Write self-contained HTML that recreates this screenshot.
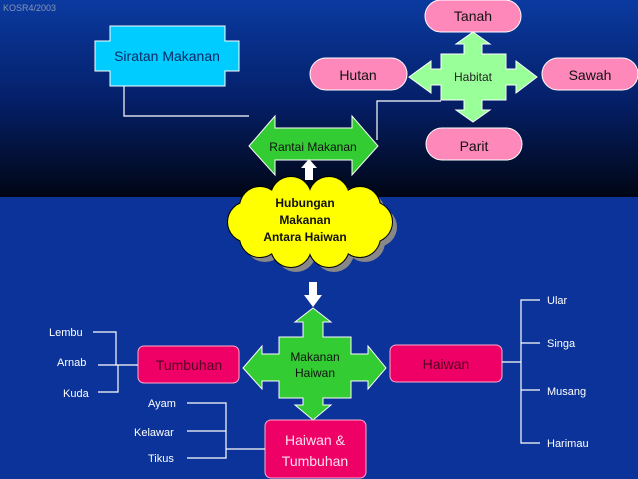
<!DOCTYPE html>
<html><head><meta charset="utf-8"><style>
html,body{margin:0;padding:0;width:638px;height:479px;overflow:hidden;background:#0b3399}
svg{display:block}
text{font-family:"Liberation Sans",sans-serif}
</style></head><body>
<svg width="638" height="479" viewBox="0 0 638 479" xmlns="http://www.w3.org/2000/svg">
<defs>
<linearGradient id="tg" x1="0" y1="0" x2="0" y2="1">
<stop offset="0" stop-color="#0a3aa0"/><stop offset="0.5" stop-color="#05206a"/><stop offset="1" stop-color="#000614"/>
</linearGradient>
<g id="cl">
<circle cx="372" cy="222" r="20"/><circle cx="360" cy="237" r="20"/><circle cx="329" cy="247" r="20"/>
<circle cx="291" cy="247" r="20"/><circle cx="260" cy="237" r="20"/><circle cx="248" cy="222" r="20"/>
<circle cx="260" cy="207" r="20"/><circle cx="291" cy="197" r="20"/><circle cx="329" cy="197" r="20"/>
<circle cx="360" cy="207" r="20"/>
<ellipse cx="310" cy="222" rx="64" ry="30"/>
</g>
</defs>
<rect x="0" y="0" width="638" height="197" fill="url(#tg)"/>
<rect x="0" y="197" width="638" height="282" fill="#0b3399"/>
<text x="3" y="11" font-size="9" fill="#8894b8">KOSR4/2003</text>

<polyline points="124,86 124,116 249,116" fill="none" stroke="#fff" stroke-width="1.2"/>
<polyline points="377,140 377,101 441,101" fill="none" stroke="#fff" stroke-width="1.2"/>

<path d="M110,26H225V41H239V71H225V86H110V71H95V41H110Z" fill="#00ccff" stroke="#fff" stroke-width="1"/>
<text x="167" y="61" font-size="14" fill="#0a2a66" text-anchor="middle">Siratan Makanan</text>

<g fill="#ff88bb" stroke="#fff" stroke-width="1">
<rect x="425" y="0" width="96" height="32" rx="16"/>
<rect x="310" y="58" width="97" height="32" rx="16"/>
<rect x="542" y="58" width="96" height="32" rx="16"/>
<rect x="426" y="128" width="96" height="32" rx="16"/>
</g>
<g font-size="14" fill="#111" text-anchor="middle">
<text x="473" y="21">Tanah</text><text x="358" y="80">Hutan</text>
<text x="590" y="80">Sawah</text><text x="474" y="151">Parit</text>
</g>

<path d="M473,32L490,44H482V54H506V69H516V61L537,77L516,93V85H506V100H482V110H490L473,122L456,110H464V100H441V85H431V93L409,77L431,61V69H441V54H464V44H456Z" fill="#99ff99" stroke="#fff" stroke-width="1"/>
<text x="473" y="81" font-size="12" fill="#222" text-anchor="middle">Habitat</text>

<path d="M249,146L275,116V128H352V116L378,146L352,175V160H275V175Z" fill="#33cc33" stroke="#fff" stroke-width="1"/>
<text x="313" y="151" font-size="12" fill="#111" text-anchor="middle">Rantai Makanan</text>

<path d="M305,180V168H301L309,159L317,168H313V180Z" fill="#fff"/>

<g fill="#888" transform="translate(5,5)"><use href="#cl"/></g>
<g fill="#ffff00" stroke="#000" stroke-width="2"><use href="#cl"/></g>
<g fill="#ffff00"><use href="#cl"/></g>
<g font-size="12" font-weight="bold" fill="#111" text-anchor="middle">
<text x="305" y="207">Hubungan</text><text x="305" y="224">Makanan</text><text x="305" y="241">Antara Haiwan</text>
</g>

<path d="M309,282H317V295H322L313,307L304,295H309Z" fill="#fff"/>

<path d="M313,308L331,322H323V337H351V354H368V346L386,368L368,389V381H351V398H323V405H331L313,420L295,405H303V398H279V381H262V389L243,368L262,346V354H279V337H303V322H295Z" fill="#33cc33" stroke="#fff" stroke-width="1"/>
<text x="315" y="361" font-size="12" fill="#111" text-anchor="middle">Makanan</text>
<text x="315" y="377" font-size="12" fill="#111" text-anchor="middle">Haiwan</text>

<g fill="#ee0066" stroke="#ffaacc" stroke-width="1">
<rect x="138" y="346" width="101" height="37" rx="6"/>
<rect x="390" y="345" width="112" height="37" rx="6"/>
<rect x="265" y="420" width="101" height="58" rx="6"/>
</g>
<text x="189" y="370" font-size="14" fill="#550022" text-anchor="middle">Tumbuhan</text>
<text x="446" y="369" font-size="14" fill="#550022" text-anchor="middle">Haiwan</text>
<text x="315" y="445" font-size="14" fill="#ffe0ee" text-anchor="middle">Haiwan &amp;</text>
<text x="315" y="466" font-size="14" fill="#ffe0ee" text-anchor="middle">Tumbuhan</text>

<g fill="none" stroke="#fff" stroke-width="1.2">
<polyline points="93,332 116,332 116,365"/><line x1="98" y1="365" x2="138" y2="365"/>
<polyline points="98,392 118,392 118,365"/>
<polyline points="187,403 226,403 226,458 187,458"/><line x1="187" y1="431" x2="226" y2="431"/>
<line x1="226" y1="449" x2="265" y2="449"/>
<polyline points="540,300 521,300 521,443 540,443"/>
<line x1="521" y1="343" x2="540" y2="343"/><line x1="521" y1="390" x2="540" y2="390"/>
<line x1="502" y1="362" x2="521" y2="362"/>
</g>
<g font-size="11" fill="#fff">
<text x="49" y="336">Lembu</text><text x="57" y="366">Arnab</text><text x="63" y="397">Kuda</text>
<text x="148" y="407">Ayam</text><text x="134" y="436">Kelawar</text><text x="148" y="462">Tikus</text>
<text x="547" y="304">Ular</text><text x="547" y="347">Singa</text><text x="547" y="395">Musang</text><text x="547" y="447">Harimau</text>
</g>
</svg>
</body></html>
